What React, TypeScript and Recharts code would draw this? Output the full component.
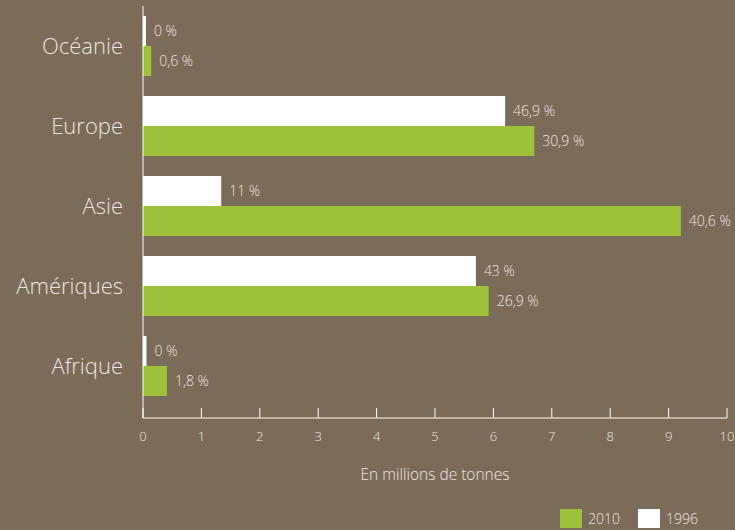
import { BarChart, Bar, XAxis, YAxis, LabelList, Legend } from 'recharts'

const regions = ['Océanie', 'Europe', 'Asie', 'Amériques', 'Afrique']
const values1996 = [0.05, 6.2, 1.34, 5.7, 0.06]
const values2010 = [0.14, 6.7, 9.21, 5.92, 0.41]
const labels1996 = ['0 %', '46,9 %', '11 %', '43 %', '0 %']
const labels2010 = ['0,6 %', '30,9 %', '40,6 %', '26,9 %', '1,8 %']
const xTicks = [0, 1, 2, 3, 4, 5, 6, 7, 8, 9, 10]

const BG = '#7b6b59'
const GREEN = '#9fc23c'
const TEXT = '#ece7e0'
const FONT = '"Open Sans", Roboto, sans-serif'

const data = regions.map((r, i) => ({
  region: r,
  v1996: values1996[i],
  v2010: values2010[i],
  l1996: labels1996[i],
  l2010: labels2010[i],
}))

function LegendContent() {
  const items = [
    { name: '2010', color: GREEN },
    { name: '1996', color: '#ffffff' },
  ]
  return (
    <div style={{ display: 'flex', alignItems: 'center', fontFamily: FONT, fontWeight: 300, fontSize: 14, color: TEXT }}>
      {items.map((it) => (
        <div key={it.name} style={{ display: 'flex', alignItems: 'center', marginRight: 18 }}>
          <span style={{ display: 'inline-block', width: 22, height: 19, background: it.color, marginRight: 6 }} />
          <span>{it.name}</span>
        </div>
      ))}
    </div>
  )
}

export default function App() {
  return (
    <div style={{ position: 'absolute', left: 0, top: 0, width: 735, height: 530, background: BG }}>
      <BarChart
        width={735}
        height={530}
        data={data}
        layout="vertical"
        margin={{ top: 6, right: 8, bottom: 0, left: 0 }}
        barCategoryGap="12.5%"
        barGap={0}
      >
        <XAxis
          type="number"
          domain={[0, 10]}
          ticks={xTicks}
          height={112}
          stroke="#ffffff"
          tickSize={-10}
          tickMargin={24}
          tick={{ fill: TEXT, fontSize: 13, fontFamily: FONT, fontWeight: 300 }}
          label={{
            value: 'En millions de tonnes',
            position: 'insideTop',
            offset: 51,
            fill: TEXT,
            fontSize: 15.5,
            fontFamily: FONT,
            fontWeight: 300,
          }}
        />
        <YAxis
          type="category"
          dataKey="region"
          width={143}
          stroke="#ffffff"
          tickLine={false}
          tickMargin={14}
          padding={{ bottom: 12 }}
          tick={{ fill: TEXT, fontSize: 22, fontFamily: FONT, fontWeight: 300 }}
        />
        <Legend
          layout="horizontal"
          verticalAlign="middle"
          align="center"
          content={<LegendContent />}
          wrapperStyle={{ top: 509, left: 560, width: 'auto' }}
        />
        <Bar dataKey="v1996" name="1996" fill="#ffffff" isAnimationActive={false}>
          <LabelList dataKey="l1996" position="right" offset={8} fill={TEXT} fontSize={14} fontFamily={FONT} fontWeight={300} />
        </Bar>
        <Bar dataKey="v2010" name="2010" fill={GREEN} isAnimationActive={false}>
          <LabelList dataKey="l2010" position="right" offset={8} fill={TEXT} fontSize={14} fontFamily={FONT} fontWeight={300} />
        </Bar>
      </BarChart>
    </div>
  )
}
